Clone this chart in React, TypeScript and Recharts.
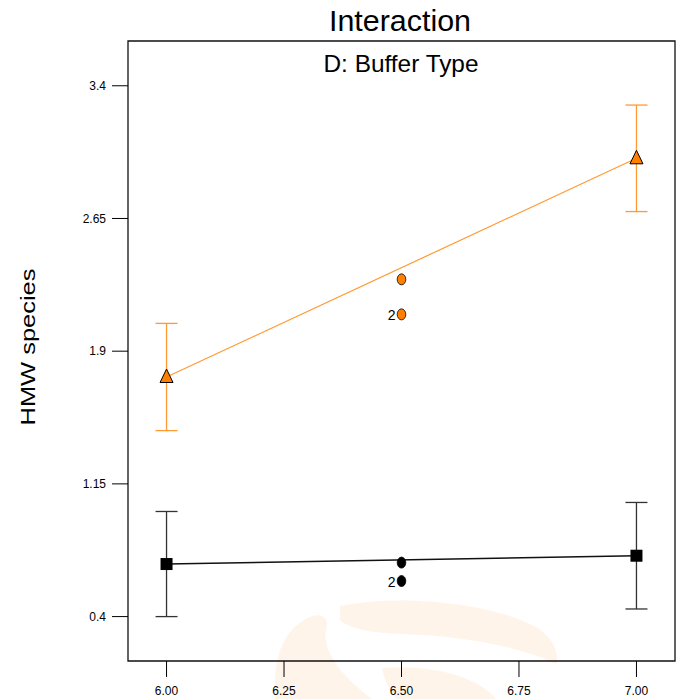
import {
  ComposedChart,
  ErrorBar,
  Line,
  ReferenceArea,
  Scatter,
  XAxis,
  YAxis,
} from "recharts"

const FONT = '"Liberation Sans", Arial, sans-serif'
const ORANGE = "#FF8000"
const ORANGE_LINE = "#FF9A33"

// axis ticks / ranges
const xTicks = [6.0, 6.25, 6.5, 6.75, 7.0]
const yTicks = [0.4, 1.15, 1.9, 2.65, 3.4]
const xDomain = [5.918, 7.082]
const yDomain = [0.149, 3.653]

// predicted means at the factor ends, with LSD half-widths
const endLevels = [6.0, 7.0]
const orangeMeans = [1.754, 2.99]
const orangeLsd = [0.303, 0.301]
const blackMeans = [0.697, 0.744]
const blackLsd = [0.297, 0.301]

// design points at the centre
const designX = [6.5, 6.5]
const orangeDesign = [2.306, 2.108]
const blackDesign = [0.705, 0.601]
const designCounts = ["", "2"]

const toRows = (xs: number[], ys: number[], errs?: number[]) =>
  xs.map((x, i) => ({ x, y: ys[i], err: errs ? errs[i] : 0 }))

const orangeRows = toRows(endLevels, orangeMeans, orangeLsd)
const blackRows = toRows(endLevels, blackMeans, blackLsd)
const orangeDesignRows = designX.map((x, i) => ({ x, y: orangeDesign[i], count: designCounts[i] }))
const blackDesignRows = designX.map((x, i) => ({ x, y: blackDesign[i], count: designCounts[i] }))

function Triangle(props: any) {
  const { cx, cy } = props
  return (
    <polygon
      points={`${cx},${cy - 8} ${cx - 6.5},${cy + 5.5} ${cx + 6.5},${cy + 5.5}`}
      fill={ORANGE}
      stroke="#000"
      strokeWidth={1}
    />
  )
}

function Square(props: any) {
  const { cx, cy } = props
  return <rect x={cx - 6} y={cy - 6} width={12} height={12} fill="#000" />
}

function designDot(fill: string) {
  return (props: any) => {
    const { cx, cy, payload } = props
    return (
      <g>
        <ellipse cx={cx} cy={cy} rx={4.3} ry={5.5} fill={fill} stroke="#000" strokeWidth={0.8} />
        {payload.count ? (
          <text x={cx - 6} y={cy + 6} textAnchor="end" fontSize={14} fontFamily={FONT} fill="#000">
            {payload.count}
          </text>
        ) : null}
      </g>
    )
  }
}

// faint logo watermark behind the plot
function Watermark() {
  return (
    <svg width={677} height={699} style={{ position: "absolute", left: 0, top: 0 }}>
      <g fill="#FFF4EA">
        <path d="M276,699 C272,660 282,628 312,616 C322,613 330,618 326,630 C322,650 340,675 372,699 Z" />
        <path d="M340,606 C410,592 500,606 538,628 C552,638 560,652 556,664 C520,646 460,636 402,634 C370,633 348,628 340,620 Z" />
        <path d="M382,668 C430,664 478,676 496,699 L396,699 C390,690 384,680 382,668 Z" />
      </g>
    </svg>
  )
}

export default function App() {
  return (
    <div style={{ position: "absolute", left: 0, top: 0, width: 677, height: 699, background: "#fff" }}>
      <Watermark />
      <div style={{ position: "absolute", left: 0, top: 0 }}>
        <ComposedChart width={677} height={699} margin={{ top: 41, right: 2, bottom: 0, left: 0 }}>
          <XAxis
            dataKey="x"
            type="number"
            domain={xDomain}
            ticks={xTicks}
            allowDataOverflow
            height={38}
            tickSize={16}
            tickMargin={9}
            axisLine={false}
            tickLine={{ stroke: "#000" }}
            tick={{ fill: "#000", fontSize: 12, fontFamily: FONT }}
            tickFormatter={(v: number) => v.toFixed(2)}
            interval={0}
          />
          <YAxis
            type="number"
            domain={yDomain}
            ticks={yTicks}
            allowDataOverflow
            width={128}
            tickSize={16}
            tickMargin={6}
            axisLine={false}
            tickLine={{ stroke: "#000" }}
            tick={{ fill: "#000", fontSize: 12, fontFamily: FONT }}
            interval={0}
          />
          <ReferenceArea
            x1={xDomain[0]}
            x2={xDomain[1]}
            y1={yDomain[0]}
            y2={yDomain[1]}
            fill="none"
            stroke="#111"
            strokeWidth={1.3}
            ifOverflow="visible"
          />
          <Line data={orangeRows} dataKey="y" type="linear" stroke={ORANGE_LINE} strokeWidth={1.2} dot={false} isAnimationActive={false} />
          <Line data={blackRows} dataKey="y" type="linear" stroke="#111" strokeWidth={1.4} dot={false} isAnimationActive={false} />
          <Scatter data={orangeRows} dataKey="y" shape={Triangle} isAnimationActive={false}>
            <ErrorBar dataKey="err" direction="y" width={11} stroke={ORANGE_LINE} strokeWidth={1.3} />
          </Scatter>
          <Scatter data={blackRows} dataKey="y" shape={Square} isAnimationActive={false}>
            <ErrorBar dataKey="err" direction="y" width={11} stroke="#333" strokeWidth={1.3} />
          </Scatter>
          <Scatter data={orangeDesignRows} dataKey="y" shape={designDot(ORANGE)} isAnimationActive={false} />
          <Scatter data={blackDesignRows} dataKey="y" shape={designDot("#000")} isAnimationActive={false} />
        </ComposedChart>
      </div>
      <svg width={677} height={699} style={{ position: "absolute", left: 0, top: 0, pointerEvents: "none" }}>
        <text x={400} y={31} textAnchor="middle" fontSize={30} fontFamily={FONT} fill="#000" textLength={142} lengthAdjust="spacingAndGlyphs">
          Interaction
        </text>
        <text x={401} y={72} textAnchor="middle" fontSize={24} fontFamily={FONT} fill="#000" textLength={155} lengthAdjust="spacingAndGlyphs">
          D: Buffer Type
        </text>
        <text
          x={35}
          y={347}
          transform="rotate(-90, 35, 347)"
          textAnchor="middle"
          fontSize={21}
          fontFamily={FONT}
          fill="#000"
          textLength={157}
          lengthAdjust="spacingAndGlyphs"
        >
          HMW species
        </text>
      </svg>
    </div>
  )
}
